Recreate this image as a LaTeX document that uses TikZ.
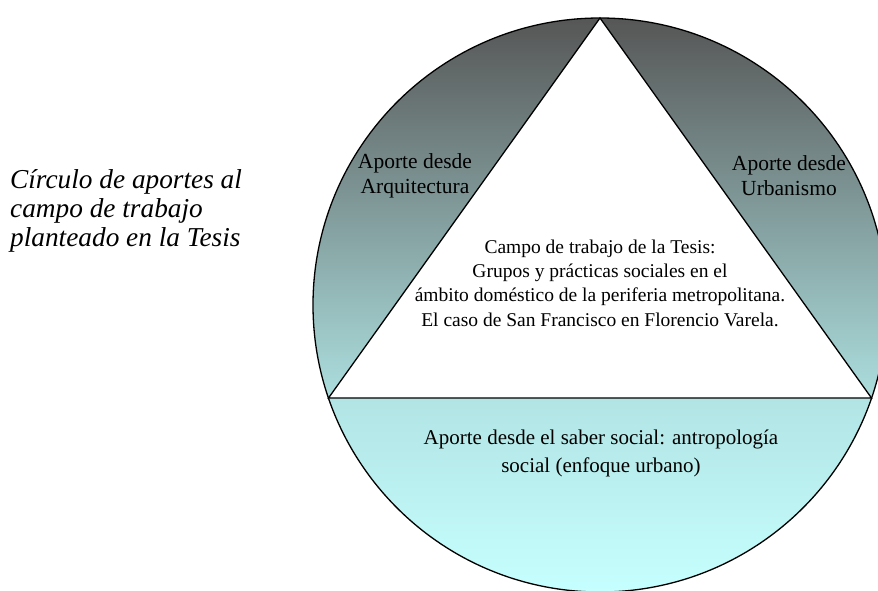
\documentclass[tikz,border=0pt]{standalone}
\usepackage{fontspec}
\setmainfont{Liberation Serif}
\definecolor{topgray}{RGB}{86,86,86}
\definecolor{midgray}{RGB}{104,116,116}
\definecolor{lowcyan}{RGB}{172,222,222}
\definecolor{segtop}{RGB}{178,228,228}
\definecolor{segbottom}{RGB}{198,255,255}
\tikzset{
  outline/.style={draw=black, line width=1.3pt, line join=miter},
  label/.style={inner sep=0pt, align=center, font=\fontsize{19.5}{24.3}\selectfont},
  caption/.style={inner sep=0pt, align=left, font=\fontsize{27.3}{29}\selectfont\itshape},
}
\begin{document}
\begin{tikzpicture}[x=1pt, y=-1pt]
  \useasboundingbox (0,0) rectangle (878,590);
  \clip (0,0) rectangle (878,590);
  % circle and inscribed triangle
  \coordinate (O) at (600,305);
  \coordinate (apex) at (600,18);
  \coordinate (bl) at (328.5,398);
  \coordinate (br) at (871.5,398);
  \begin{scope}
    \clip (O) circle[radius=287];
    \shade[top color=topgray, middle color=midgray, bottom color=lowcyan]
      (313,18) rectangle (887,398);
    \shade[top color=segtop, bottom color=segbottom]
      (313,398) rectangle (887,592);
  \end{scope}
  \fill[white] (apex) -- (bl) -- (br) -- cycle;
  \draw[outline] (O) circle[radius=287];
  \draw[outline] (apex) -- (bl) -- (br) -- cycle;
  % texts
  \node[caption, anchor=west] (cap) at (10,211)
    {Círculo de aportes al\\campo de trabajo\\planteado en la Tesis};
  \node[label, font=\fontsize{21.5}{25}\selectfont] (arq) at (415,176) {Aporte desde\\Arquitectura};
  \node[label, font=\fontsize{21.5}{25}\selectfont] (urb) at (789,176) {Aporte desde\\Urbanismo};
  \node[label] (campo) at (600,283)
    {Campo de trabajo de la Tesis:\\Grupos y prácticas sociales en el\\ámbito doméstico de la periferia metropolitana.\\El caso de San Francisco en Florencio Varela.};
  \node[label, font=\fontsize{21}{28}\selectfont] (soc) at (601,453)
    {Aporte desde el saber social: antropología\\social (enfoque urbano)};
\end{tikzpicture}
\end{document}
